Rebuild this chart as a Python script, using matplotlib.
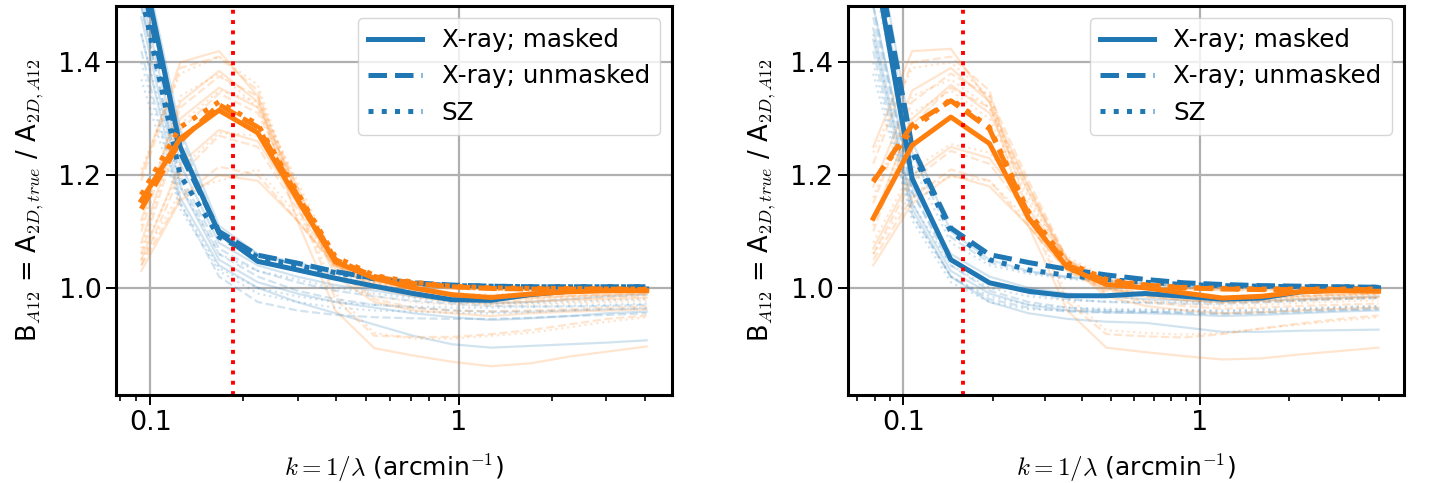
import numpy as np
import matplotlib
matplotlib.use('Agg')
import matplotlib.pyplot as plt
from matplotlib.ticker import NullFormatter

plt.rcParams['mathtext.fontset'] = 'cm'
plt.rcParams['font.size'] = 19.5

# k grid (arcmin^-1)
k_left = [0.0935, 0.125, 0.167, 0.223, 0.299, 0.398, 0.532, 0.711, 0.95, 1.27, 1.70, 2.27, 3.03, 4.06]
k_right = [0.0791, 0.107, 0.1445, 0.195, 0.264, 0.357, 0.483, 0.653, 0.883, 1.19, 1.61, 2.18, 2.96, 4.0]

# scale cut (red dotted line)
kcut_left = 0.186
kcut_right = 0.159

# ---- left panel, thick (median) lines ----
blue_solid_L = [1.58, 1.25, 1.097, 1.047, 1.032, 1.017, 1.003, 0.99, 0.979, 0.978, 0.988, 0.994, 0.997, 0.998]
blue_dashed_L = [1.55, 1.24, 1.10, 1.058, 1.044, 1.029, 1.017, 1.009, 1.005, 1.003, 1.002, 1.002, 1.002, 1.002]
blue_dotted_L = [1.52, 1.20, 1.09, 1.055, 1.04, 1.027, 1.016, 1.008, 1.004, 1.003, 1.002, 1.002, 1.002, 1.002]
orange_solid_L = [1.155, 1.265, 1.315, 1.275, 1.158, 1.046, 1.017, 1.0, 0.988, 0.983, 0.989, 0.993, 0.995, 0.995]
orange_dashed_L = [1.14, 1.26, 1.325, 1.285, 1.165, 1.05, 1.02, 1.008, 1.002, 0.999, 0.998, 0.998, 0.998, 0.997]
orange_dotted_L = [1.165, 1.285, 1.33, 1.29, 1.17, 1.055, 1.022, 1.01, 1.003, 1.0, 0.999, 0.999, 0.998, 0.998]

# ---- left panel, individual clusters (faint) ----
faint_blue_L_solid = [
    [1.60, 1.28, 1.11, 1.06, 1.04, 1.025, 1.015, 1.008, 1.003, 1.0, 0.999, 0.999, 0.998, 0.998],
    [1.52, 1.22, 1.08, 1.04, 1.02, 1.005, 0.995, 0.985, 0.978, 0.973, 0.975, 0.98, 0.985, 0.988],
    [1.48, 1.18, 1.05, 1.01, 0.99, 0.975, 0.965, 0.955, 0.948, 0.943, 0.946, 0.95, 0.955, 0.958],
    [1.45, 1.16, 1.04, 1.0, 0.975, 0.955, 0.935, 0.915, 0.90, 0.894, 0.897, 0.90, 0.903, 0.907],
]
faint_blue_L_dashed = [
    [1.58, 1.27, 1.10, 1.06, 1.045, 1.03, 1.018, 1.01, 1.005, 1.003, 1.002, 1.001, 1.0, 1.0],
    [1.50, 1.20, 1.07, 1.03, 1.01, 0.995, 0.985, 0.977, 0.972, 0.968, 0.967, 0.967, 0.968, 0.97],
    [1.42, 1.15, 1.02, 0.975, 0.96, 0.952, 0.948, 0.946, 0.945, 0.945, 0.947, 0.95, 0.952, 0.955],
    [1.50, 1.19, 1.06, 1.02, 0.995, 0.98, 0.97, 0.965, 0.96, 0.958, 0.958, 0.96, 0.962, 0.963],
]
faint_blue_L_dotted = [
    [1.55, 1.25, 1.09, 1.05, 1.035, 1.022, 1.012, 1.006, 1.002, 1.0, 0.999, 0.999, 0.999, 0.999],
    [1.45, 1.18, 1.06, 1.03, 1.015, 1.0, 0.99, 0.982, 0.975, 0.972, 0.973, 0.975, 0.978, 0.98],
    [1.37, 1.14, 1.03, 0.99, 0.975, 0.965, 0.96, 0.958, 0.956, 0.955, 0.957, 0.96, 0.962, 0.965],
    [1.40, 1.15, 1.035, 1.0, 0.985, 0.975, 0.97, 0.967, 0.965, 0.965, 0.966, 0.968, 0.97, 0.972],
]
faint_orange_L_solid = [
    [1.20, 1.40, 1.42, 1.34, 1.12, 0.96, 0.893, 0.88, 0.869, 0.861, 0.866, 0.878, 0.887, 0.896],
    [1.12, 1.33, 1.385, 1.33, 1.17, 1.02, 0.975, 0.96, 0.955, 0.95, 0.955, 0.958, 0.96, 0.962],
    [1.08, 1.30, 1.355, 1.32, 1.18, 1.04, 1.0, 0.985, 0.975, 0.972, 0.975, 0.978, 0.98, 0.982],
    [1.05, 1.22, 1.28, 1.26, 1.15, 1.045, 1.015, 1.005, 1.0, 0.998, 0.998, 0.998, 0.998, 0.998],
    [1.03, 1.155, 1.20, 1.19, 1.12, 1.04, 1.01, 0.995, 0.985, 0.98, 0.982, 0.985, 0.988, 0.99],
]
faint_orange_L_dashed = [
    [1.19, 1.39, 1.41, 1.35, 1.15, 0.98, 0.915, 0.913, 0.913, 0.918, 0.925, 0.935, 0.945, 0.951],
    [1.10, 1.32, 1.375, 1.34, 1.18, 1.03, 0.98, 0.965, 0.96, 0.958, 0.96, 0.962, 0.965, 0.967],
    [1.06, 1.28, 1.345, 1.31, 1.17, 1.04, 1.005, 0.99, 0.985, 0.982, 0.984, 0.986, 0.988, 0.99],
    [1.04, 1.20, 1.27, 1.25, 1.14, 1.04, 1.012, 1.003, 0.998, 0.996, 0.996, 0.997, 0.997, 0.997],
    [1.04, 1.16, 1.215, 1.20, 1.12, 1.035, 1.005, 0.99, 0.98, 0.975, 0.978, 0.98, 0.983, 0.985],
]
faint_orange_L_dotted = [
    [1.21, 1.38, 1.41, 1.36, 1.16, 0.99, 0.92, 0.91, 0.91, 0.915, 0.92, 0.93, 0.94, 0.948],
    [1.11, 1.34, 1.38, 1.32, 1.16, 1.03, 0.985, 0.975, 0.97, 0.968, 0.97, 0.972, 0.975, 0.977],
    [1.07, 1.29, 1.35, 1.33, 1.19, 1.05, 1.01, 0.995, 0.99, 0.988, 0.99, 0.992, 0.994, 0.995],
    [1.06, 1.21, 1.275, 1.27, 1.16, 1.05, 1.018, 1.007, 1.002, 1.0, 0.999, 0.999, 0.999, 0.999],
    [1.05, 1.17, 1.19, 1.21, 1.13, 1.04, 1.008, 0.993, 0.985, 0.98, 0.982, 0.984, 0.986, 0.988],
]

# ---- right panel, thick (median) lines ----
blue_solid_R = [1.59, 1.194, 1.05, 1.009, 0.994, 0.986, 0.986, 0.99, 0.985, 0.98, 0.982, 0.993, 0.997, 1.0]
blue_dashed_R = [1.62, 1.25, 1.106, 1.059, 1.045, 1.033, 1.023, 1.015, 1.009, 1.006, 1.004, 1.003, 1.002, 1.001]
blue_dotted_R = [1.60, 1.24, 1.10, 1.05, 1.032, 1.022, 1.015, 1.01, 1.006, 1.004, 1.003, 1.002, 1.002, 1.001]
orange_solid_R = [1.1235, 1.253, 1.303, 1.256, 1.124, 1.036, 1.006, 1.0, 0.991, 0.982, 0.985, 0.993, 0.995, 0.994]
orange_dashed_R = [1.188, 1.289, 1.332, 1.282, 1.13, 1.04, 1.012, 1.005, 1.0, 0.998, 0.997, 0.997, 0.997, 0.997]
orange_dotted_R = [1.19, 1.28, 1.335, 1.285, 1.135, 1.045, 1.015, 1.005, 1.001, 0.999, 0.998, 0.998, 0.998, 0.998]

# ---- right panel, individual clusters (faint) ----
faint_blue_R_solid = [
    [1.65, 1.26, 1.10, 1.05, 1.03, 1.02, 1.013, 1.008, 1.004, 1.002, 1.001, 1.0, 1.0, 1.0],
    [1.50, 1.18, 1.06, 1.02, 1.0, 0.99, 0.985, 0.98, 0.978, 0.976, 0.978, 0.98, 0.983, 0.985],
    [1.46, 1.15, 1.03, 0.99, 0.97, 0.96, 0.957, 0.955, 0.953, 0.95, 0.952, 0.955, 0.958, 0.96],
    [1.44, 1.14, 1.02, 0.975, 0.955, 0.945, 0.94, 0.938, 0.93, 0.922, 0.922, 0.924, 0.925, 0.926],
]
faint_blue_R_dashed = [
    [1.60, 1.24, 1.09, 1.045, 1.028, 1.018, 1.012, 1.007, 1.004, 1.002, 1.001, 1.001, 1.0, 1.0],
    [1.48, 1.17, 1.05, 1.01, 0.99, 0.98, 0.975, 0.973, 0.972, 0.972, 0.974, 0.977, 0.98, 0.982],
    [1.42, 1.13, 1.02, 0.98, 0.965, 0.958, 0.956, 0.957, 0.957, 0.955, 0.957, 0.96, 0.962, 0.964],
    [1.50, 1.17, 1.04, 0.995, 0.975, 0.965, 0.96, 0.958, 0.955, 0.953, 0.955, 0.957, 0.96, 0.962],
]
faint_blue_R_dotted = [
    [1.55, 1.22, 1.08, 1.04, 1.025, 1.016, 1.01, 1.006, 1.003, 1.001, 1.0, 1.0, 1.0, 1.0],
    [1.45, 1.15, 1.04, 1.0, 0.985, 0.978, 0.976, 0.975, 0.975, 0.975, 0.976, 0.978, 0.98, 0.982],
    [1.38, 1.12, 1.01, 0.975, 0.962, 0.96, 0.96, 0.96, 0.96, 0.958, 0.96, 0.962, 0.965, 0.967],
    [1.40, 1.13, 1.02, 0.985, 0.97, 0.965, 0.963, 0.962, 0.961, 0.96, 0.962, 0.964, 0.966, 0.968],
]
faint_orange_R_solid = [
    [1.25, 1.42, 1.424, 1.33, 1.11, 0.96, 0.894, 0.886, 0.879, 0.873, 0.875, 0.882, 0.888, 0.894],
    [1.18, 1.35, 1.39, 1.33, 1.18, 1.04, 0.985, 0.968, 0.96, 0.955, 0.957, 0.96, 0.963, 0.965],
    [1.12, 1.30, 1.36, 1.31, 1.17, 1.05, 1.0, 0.985, 0.978, 0.975, 0.977, 0.98, 0.982, 0.984],
    [1.07, 1.20, 1.25, 1.23, 1.14, 1.05, 1.015, 1.005, 1.0, 0.997, 0.997, 0.998, 0.998, 0.998],
    [1.04, 1.15, 1.20, 1.18, 1.11, 1.03, 0.998, 0.99, 0.985, 0.98, 0.982, 0.985, 0.988, 0.99],
]
faint_orange_R_dashed = [
    [1.22, 1.40, 1.41, 1.35, 1.13, 0.975, 0.918, 0.914, 0.912, 0.918, 0.928, 0.937, 0.945, 0.951],
    [1.15, 1.33, 1.38, 1.34, 1.19, 1.05, 0.99, 0.975, 0.968, 0.963, 0.965, 0.968, 0.97, 0.972],
    [1.10, 1.29, 1.355, 1.32, 1.18, 1.05, 1.005, 0.99, 0.985, 0.982, 0.984, 0.986, 0.988, 0.99],
    [1.06, 1.19, 1.243, 1.22, 1.13, 1.045, 1.012, 1.003, 0.998, 0.996, 0.996, 0.997, 0.997, 0.997],
    [1.05, 1.16, 1.21, 1.19, 1.11, 1.03, 0.995, 0.985, 0.978, 0.973, 0.975, 0.978, 0.981, 0.983],
]
faint_orange_R_dotted = [
    [1.24, 1.39, 1.40, 1.34, 1.14, 0.985, 0.925, 0.92, 0.917, 0.92, 0.928, 0.935, 0.942, 0.948],
    [1.16, 1.34, 1.37, 1.32, 1.17, 1.04, 0.99, 0.978, 0.972, 0.968, 0.97, 0.973, 0.976, 0.978],
    [1.11, 1.31, 1.35, 1.30, 1.16, 1.045, 1.0, 0.988, 0.982, 0.98, 0.982, 0.985, 0.987, 0.989],
    [1.08, 1.21, 1.255, 1.24, 1.15, 1.055, 1.018, 1.007, 1.002, 1.0, 0.999, 0.999, 0.999, 0.999],
    [1.06, 1.17, 1.197, 1.19, 1.12, 1.035, 1.0, 0.988, 0.982, 0.978, 0.98, 0.983, 0.985, 0.987],
]

styles = ['-', '--', ':']
labels = ['X-ray; masked', 'X-ray; unmasked', 'SZ']


def draw_panel(ax, k, faint_blue, faint_orange, thick_blue, thick_orange, kcut):
    # faint lines for the individual clusters
    for ls, rows in zip(styles, faint_blue):
        for r in rows:
            ax.plot(k, r, color='C0', ls=ls, lw=1.6, alpha=0.2)
    for ls, rows in zip(styles, faint_orange):
        for r in rows:
            ax.plot(k, r, color='C1', ls=ls, lw=1.6, alpha=0.2)
    # thick median lines
    for ls, vals, lab in zip(styles, thick_blue, labels):
        ax.plot(k, vals, color='C0', ls=ls, lw=3.6, label=lab)
    for ls, vals in zip(styles, thick_orange):
        ax.plot(k, vals, color='C1', ls=ls, lw=3.6)
    ax.axvline(kcut, color='red', ls=':', lw=2.8)

    ax.set_xscale('log')
    ax.set_ylim(0.81, 1.5)
    ax.set_yticks([1.0, 1.2, 1.4])
    ax.set_xticks([0.1, 1])
    ax.set_xticklabels(['0.1', '1'])
    ax.xaxis.set_minor_formatter(NullFormatter())
    ax.grid(True, color='#b0b0b0', lw=1.6)
    ax.set_axisbelow(True)
    ax.set_xlabel(r'$k = 1/\lambda$ (arcmin$^{-1}$)', fontsize=18, labelpad=12)
    ax.set_ylabel(r'B$_{A12}$ = A$_{2D,true}$ / A$_{2D,A12}$', fontsize=18.5, labelpad=9)
    ax.legend(loc='upper right', fontsize=17.7, handlelength=2.2)
    for s in ax.spines.values():
        s.set_linewidth(2.2)
    ax.tick_params(which='major', length=7, width=1.4)
    ax.tick_params(which='minor', length=4, width=1.2)


fig = plt.figure(figsize=(14.29, 4.83), dpi=100)
ax1 = fig.add_axes([0.0812, 0.1822, 0.389, 0.8054])
ax2 = fig.add_axes([0.5934, 0.1822, 0.389, 0.8054])

draw_panel(ax1, k_left,
           [faint_blue_L_solid, faint_blue_L_dashed, faint_blue_L_dotted],
           [faint_orange_L_solid, faint_orange_L_dashed, faint_orange_L_dotted],
           [blue_solid_L, blue_dashed_L, blue_dotted_L],
           [orange_solid_L, orange_dashed_L, orange_dotted_L],
           kcut_left)
draw_panel(ax2, k_right,
           [faint_blue_R_solid, faint_blue_R_dashed, faint_blue_R_dotted],
           [faint_orange_R_solid, faint_orange_R_dashed, faint_orange_R_dotted],
           [blue_solid_R, blue_dashed_R, blue_dotted_R],
           [orange_solid_R, orange_dashed_R, orange_dotted_R],
           kcut_right)

fig.savefig('out.png', dpi=100)
